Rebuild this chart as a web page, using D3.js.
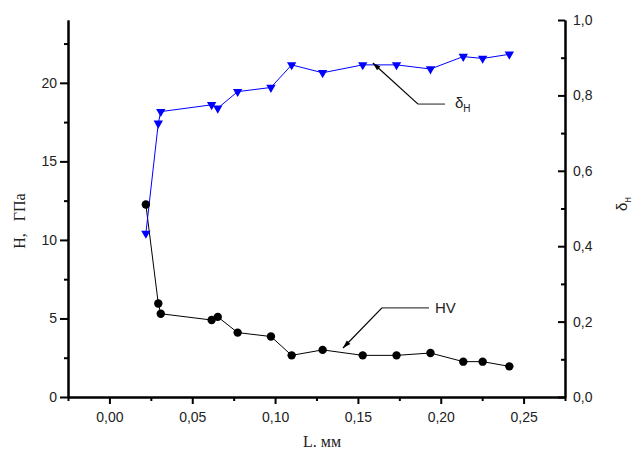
<!DOCTYPE html>
<html><head><meta charset="utf-8">
<script src="https://cdn.jsdelivr.net/npm/d3@7"></script>
<style>body{margin:0;background:#fff} svg{display:block}</style>
</head><body><svg id="c" width="640" height="451"></svg>
<script>
// Data
const L = [0.022,0.0295,0.031,0.0617,0.0654,0.0774,0.0975,0.110,0.1287,0.1529,0.1733,0.1938,0.2136,0.2253,0.2414];
const HV = [12.25,5.95,5.3,4.9,5.1,4.1,3.85,2.65,3.0,2.65,2.65,2.8,2.25,2.25,1.95];
const deltaH = [0.434,0.726,0.757,0.775,0.766,0.810,0.821,0.881,0.860,0.881,0.881,0.870,0.903,0.898,0.909];
const xMajor = [0,0.05,0.10,0.15,0.20,0.25];
const xMinor = [-0.025,0.025,0.075,0.125,0.175,0.225,0.275];
const hMajor = [0,5,10,15,20];
const hMinor = [2.5,7.5,12.5,17.5,22.5];
const dMajor = [0,0.2,0.4,0.6,0.8,1.0];
const dMinor = [0.1,0.3,0.5,0.7,0.9];

const svg = d3.select("#c");
const pL = 68, pR = 565, pT = 20, pB = 397;
const x = d3.scaleLinear().domain([-0.025,0.275]).range([pL,pR]);
const yH = d3.scaleLinear().domain([0,24]).range([pB,pT]);
const yD = d3.scaleLinear().domain([0,1]).range([pB,pT]);

const comma = f => d => d3.format(f)(d).replace(".", ",");
const sans = "'Liberation Sans', Arial, sans-serif";
const serif = "'Liberation Serif', 'Times New Roman', serif";

function styleAxis(g){
  g.select(".domain").attr("stroke","#000").attr("stroke-width",2);
  g.selectAll(".tick line").attr("stroke","#000").attr("stroke-width",2);
  g.selectAll("text").attr("font-family",sans).attr("font-size",14).attr("fill","#222");
}

// bottom axis
svg.append("g").attr("transform",`translate(0,${pB})`)
  .call(d3.axisBottom(x).tickValues(xMinor).tickSize(4).tickSizeOuter(0).tickFormat(""))
  .call(styleAxis);
svg.append("g").attr("transform",`translate(0,${pB})`)
  .call(d3.axisBottom(x).tickValues(xMajor).tickSize(7).tickSizeOuter(0).tickPadding(8).tickFormat(comma(".2f")))
  .call(styleAxis);
// left axis
svg.append("g").attr("transform",`translate(${pL},0)`)
  .call(d3.axisLeft(yH).tickValues(hMinor).tickSize(4).tickSizeOuter(0).tickFormat(""))
  .call(styleAxis);
svg.append("g").attr("transform",`translate(${pL},0)`)
  .call(d3.axisLeft(yH).tickValues(hMajor).tickSize(8).tickSizeOuter(0).tickPadding(3).tickFormat(d3.format("d")))
  .call(styleAxis);
// right axis (ticks inward)
svg.append("g").attr("transform",`translate(${pR},0)`)
  .call(d3.axisRight(yD).tickValues(dMinor).tickSize(-4).tickSizeOuter(0).tickFormat(""))
  .call(styleAxis);
svg.append("g").attr("transform",`translate(${pR},0)`)
  .call(d3.axisRight(yD).tickValues(dMajor).tickSize(-7).tickSizeOuter(0).tickPadding(8).tickFormat(comma(".1f")))
  .call(styleAxis);

// axis titles
svg.append("text").attr("x",322).attr("y",447).attr("text-anchor","middle")
  .attr("font-family",serif).attr("font-size",16).attr("fill","#222").text("L. мм");
svg.append("text").attr("transform","translate(25,221) rotate(-90)").attr("text-anchor","middle")
  .attr("font-family",serif).attr("font-size",16).attr("fill","#222")
  .attr("xml:space","preserve").style("white-space","pre").text("H,   ГПа");
const rt = svg.append("text").attr("transform","translate(627,204) rotate(-90)").attr("text-anchor","middle")
  .attr("font-family",sans).attr("font-size",15).attr("fill","#222");
rt.append("tspan").text("δ");
rt.append("tspan").attr("dy",4).attr("font-size",10).text("н");

// lines
const lineH = d3.line().x((d,i)=>x(L[i])).y(d=>yH(d));
const lineD = d3.line().x((d,i)=>x(L[i])).y(d=>yD(d));
svg.append("path").datum(HV).attr("d",lineH).attr("fill","none").attr("stroke","#000").attr("stroke-width",1);
svg.append("path").datum(deltaH).attr("d",lineD).attr("fill","none").attr("stroke","#0000ff").attr("stroke-width",1);

svg.append("g").selectAll("circle").data(HV).join("circle")
  .attr("cx",(d,i)=>x(L[i])).attr("cy",d=>yH(d)).attr("r",4.2).attr("fill","#000");
const tri = d3.symbol(d3.symbolTriangle, 38);
svg.append("g").selectAll("path").data(deltaH).join("path")
  .attr("d",tri).attr("fill","#0000ff")
  .attr("transform",(d,i)=>`translate(${x(L[i])},${yD(d)}) rotate(180)`);

// annotations
function arrow(tip, elbow, end){
  const [tx,ty]=tip,[ex,ey]=elbow,[nx,ny]=end;
  svg.append("path").attr("d",`M${nx},${ny}L${ex},${ey}`).attr("stroke","#444").attr("stroke-width",1.2).attr("fill","none");
  svg.append("path").attr("d",`M${ex},${ey}L${tx},${ty}`).attr("stroke","#000").attr("stroke-width",1.2).attr("fill","none");
  const a=Math.atan2(ty-ey,tx-ex), len=8, w=2.5;
  const bx=tx-len*Math.cos(a), by=ty-len*Math.sin(a);
  const px=-Math.sin(a)*w, py=Math.cos(a)*w;
  svg.append("path").attr("d",`M${tx},${ty}L${bx+px},${by+py}L${bx-px},${by-py}Z`).attr("fill","#000");
}
arrow([x(0.159),yD(0.886)],[x(0.1863),yD(0.777)],[x(0.2026),yD(0.777)]);
const t1 = svg.append("text").attr("x",x(0.2086)).attr("y",yD(0.777)+4)
  .attr("font-family",sans).attr("font-size",15).attr("fill","#222");
t1.append("tspan").text("δ");
t1.append("tspan").attr("dy",4).attr("font-size",10).text("H");

arrow([x(0.141),yH(3.12)],[x(0.1645),yH(5.67)],[x(0.1929),yH(5.67)]);
svg.append("text").attr("x",x(0.1965)).attr("y",yH(5.67)+5)
  .attr("font-family",sans).attr("font-size",15).attr("fill","#222").text("HV");
</script></body></html>
